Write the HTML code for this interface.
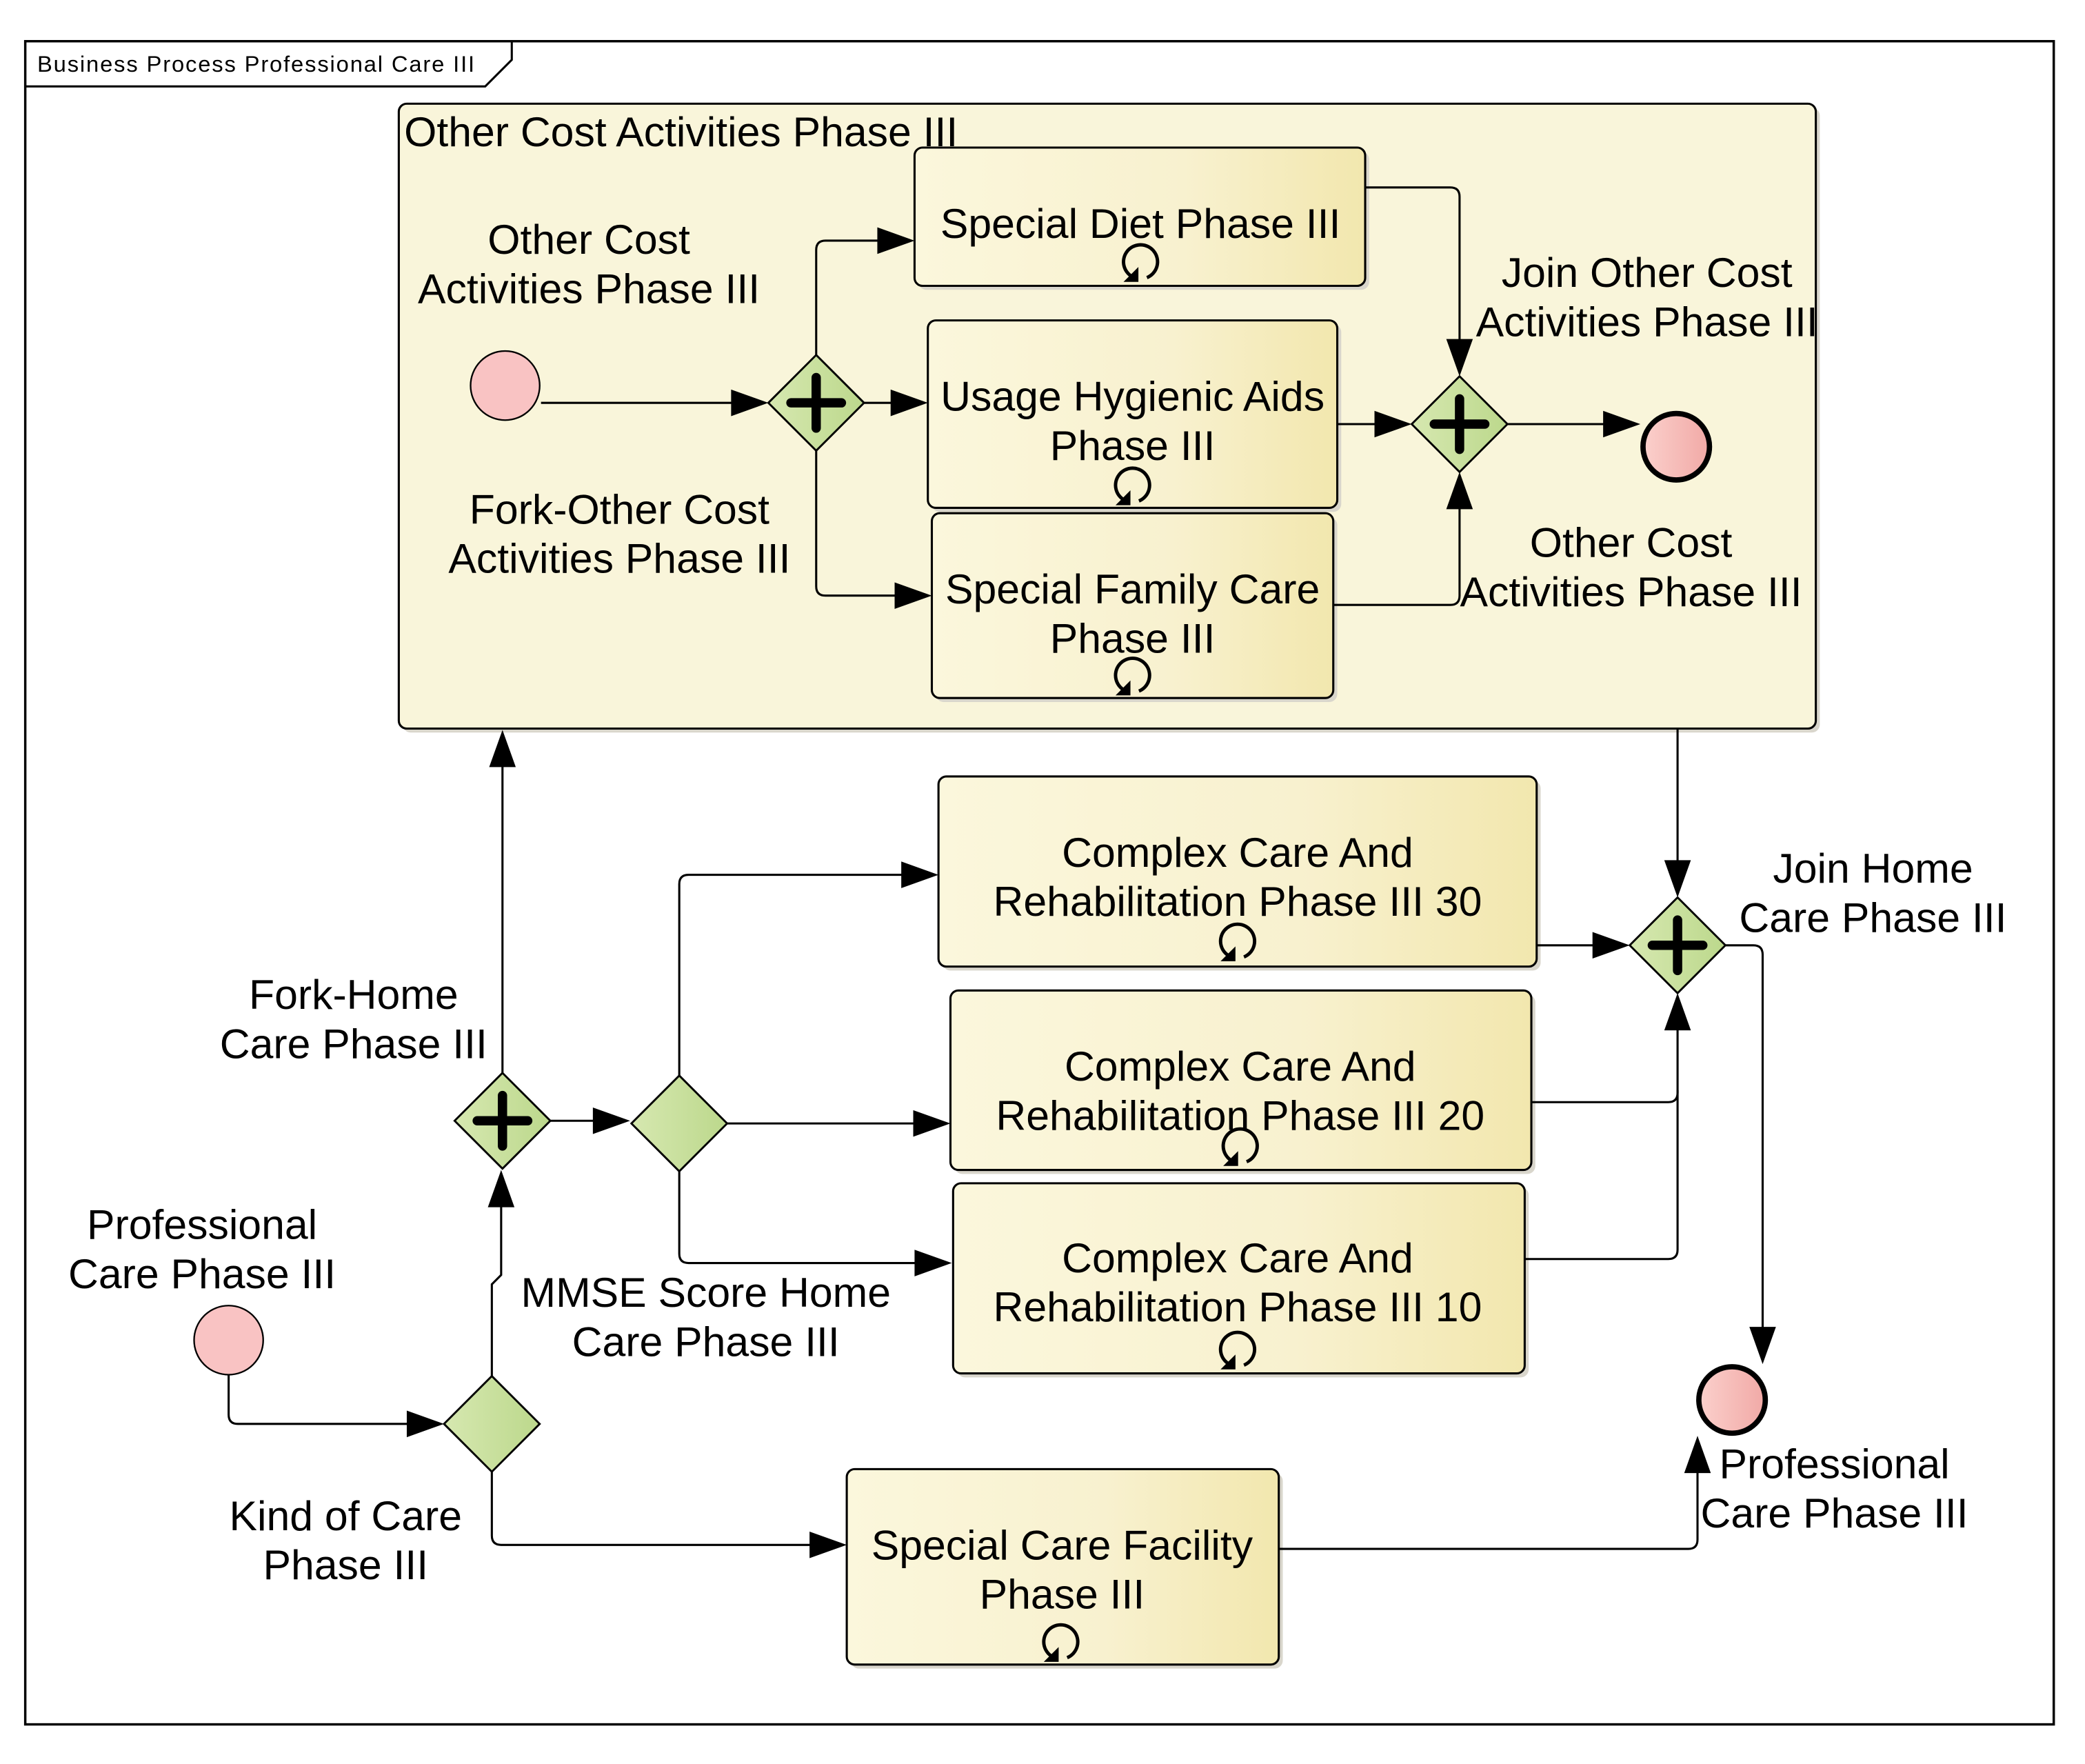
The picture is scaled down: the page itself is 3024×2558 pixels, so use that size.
<!DOCTYPE html>
<html><head><meta charset="utf-8"><style>html,body{margin:0;padding:0;background:#fff}svg{display:block}</style></head>
<body>
<svg width="3024" height="2558" viewBox="0 0 1568.5 1326.8" xmlns="http://www.w3.org/2000/svg" font-family="Liberation Sans, sans-serif">
<defs>
<linearGradient id="tk" x1="0" x2="1" y1="0" y2="0"><stop offset="0" stop-color="#fbf7dc"/><stop offset="0.6" stop-color="#f8f1cf"/><stop offset="1" stop-color="#f2e7ae"/></linearGradient>
<linearGradient id="gw" x1="0" x2="1" y1="0" y2="0"><stop offset="0" stop-color="#d6e8b0"/><stop offset="1" stop-color="#bcd88c"/></linearGradient>
<linearGradient id="ev" x1="0" x2="1" y1="0" y2="0"><stop offset="0" stop-color="#fbd0cc"/><stop offset="1" stop-color="#f1a9a6"/></linearGradient>
<g id="loop"><g transform="scale(1.6)"><path d="M-3,8 A8,8 0 1 1 3,8" fill="none" stroke="#000" stroke-width="1.6"/><path d="M-8,10 L-1,10 L-1,3 Z" fill="#000"/></g></g>
<g id="par"><path d="M0,-36 L36,0 L0,36 L-36,0 Z" fill="url(#gw)" stroke="#000" stroke-width="1.5"/><path d="M-19,0 H19 M0,-19 V19" stroke="#000" stroke-width="7" stroke-linecap="round"/></g>
<g id="exc"><path d="M0,-36 L36,0 L0,36 L-36,0 Z" fill="url(#gw)" stroke="#000" stroke-width="1.5"/></g>
</defs>
<style>
text{font-size:31.5px;fill:#000}
.c{text-anchor:middle}
.ln{fill:none;stroke:#000;stroke-width:1.6}
.tk{fill:url(#tk);stroke:#000;stroke-width:1.6}
.sh{fill:#d9d6cc}
</style>
<rect x="19" y="31" width="1526" height="1266" fill="#fff" stroke="#000" stroke-width="1.8"/>
<path d="M19,65 H365 L385,45 V31" class="ln"/>
<text x="28" y="48" dominant-baseline="central" style="font-size:17px;letter-spacing:0.95px">Business Process Professional Care III</text>

<rect x="303" y="81" width="1066" height="470" rx="6" class="sh"/>
<rect x="300" y="78" width="1066" height="470" rx="6" fill="#f9f5da" stroke="#000" stroke-width="1.6"/>
<text x="304" y="99" dominant-baseline="central">Other Cost Activities Phase III</text>

<circle cx="380" cy="290" r="26" fill="#f9c3c3" stroke="#000" stroke-width="1.2"/>
<text class="c" x="443" y="180" dominant-baseline="central">Other Cost</text>
<text class="c" x="443" y="217" dominant-baseline="central">Activities Phase III</text>
<text class="c" x="466" y="383" dominant-baseline="central">Fork-Other Cost</text>
<text class="c" x="466" y="420" dominant-baseline="central">Activities Phase III</text>

<rect x="691" y="114" width="339" height="104" rx="6" class="sh"/>
<rect x="688" y="111" width="339" height="104" rx="6" class="tk"/>
<text class="c" x="858" y="168" dominant-baseline="central">Special Diet Phase III</text>
<use href="#loop" x="858" y="196"/>

<rect x="701" y="244" width="308" height="141" rx="6" class="sh"/>
<rect x="698" y="241" width="308" height="141" rx="6" class="tk"/>
<text class="c" x="852" y="298" dominant-baseline="central">Usage Hygienic Aids</text>
<text class="c" x="852" y="335" dominant-baseline="central">Phase III</text>
<use href="#loop" x="852" y="364"/>

<rect x="704" y="389" width="302" height="139" rx="6" class="sh"/>
<rect x="701" y="386" width="302" height="139" rx="6" class="tk"/>
<text class="c" x="852" y="443" dominant-baseline="central">Special Family Care</text>
<text class="c" x="852" y="480" dominant-baseline="central">Phase III</text>
<use href="#loop" x="852" y="507"/>

<path class="ln" d="M407,303 H560"/>
<path class="ln" d="M614,267 V188 Q614,181 621,181 H670"/>
<path class="ln" d="M650,303 H680"/>
<path class="ln" d="M614,339 V441 Q614,448 621,448 H683"/>
<path class="ln" d="M1027,141 H1091 Q1098,141 1098,148 V265"/>
<path class="ln" d="M1006,319 H1044"/>
<path class="ln" d="M1003,455 H1091 Q1098,455 1098,448 V373"/>
<path class="ln" d="M1134,319 H1216"/>
<use href="#par" x="614" y="303"/>
<use href="#par" x="1098" y="319"/>
<circle cx="1261" cy="336" r="25" fill="url(#ev)" stroke="#000" stroke-width="4"/>
<g fill="#000">
<path d="M578,303 L550,293 L550,313 Z"/>
<path d="M688,181 L660,171 L660,191 Z"/>
<path d="M698,303 L670,293 L670,313 Z"/>
<path d="M701,448 L673,438 L673,458 Z"/>
<path d="M1098,283 L1088,255 L1108,255 Z"/>
<path d="M1062,319 L1034,309 L1034,329 Z"/>
<path d="M1098,355 L1088,383 L1108,383 Z"/>
<path d="M1234,319 L1206,309 L1206,329 Z"/>
</g>
<text class="c" x="1239" y="205" dominant-baseline="central">Join Other Cost</text>
<text class="c" x="1239" y="242" dominant-baseline="central">Activities Phase III</text>
<text class="c" x="1227" y="408" dominant-baseline="central">Other Cost</text>
<text class="c" x="1227" y="445" dominant-baseline="central">Activities Phase III</text>

<rect x="709" y="587" width="450" height="143" rx="6" class="sh"/>
<rect x="706" y="584" width="450" height="143" rx="6" class="tk"/>
<text class="c" x="931" y="641" dominant-baseline="central">Complex Care And</text>
<text class="c" x="931" y="678" dominant-baseline="central">Rehabilitation Phase III 30</text>
<use href="#loop" x="931" y="707"/>

<rect x="718" y="748" width="437" height="135" rx="6" class="sh"/>
<rect x="715" y="745" width="437" height="135" rx="6" class="tk"/>
<text class="c" x="933" y="802" dominant-baseline="central">Complex Care And</text>
<text class="c" x="933" y="839" dominant-baseline="central">Rehabilitation Phase III 20</text>
<use href="#loop" x="933" y="861"/>

<rect x="720" y="893" width="430" height="143" rx="6" class="sh"/>
<rect x="717" y="890" width="430" height="143" rx="6" class="tk"/>
<text class="c" x="931" y="946" dominant-baseline="central">Complex Care And</text>
<text class="c" x="931" y="983" dominant-baseline="central">Rehabilitation Phase III 10</text>
<use href="#loop" x="931" y="1014"/>

<rect x="640" y="1108" width="325" height="147" rx="6" class="sh"/>
<rect x="637" y="1105" width="325" height="147" rx="6" class="tk"/>
<text class="c" x="799" y="1162" dominant-baseline="central">Special Care Facility</text>
<text class="c" x="799" y="1199" dominant-baseline="central">Phase III</text>
<use href="#loop" x="798" y="1234"/>

<path class="ln" d="M172,1034 V1064 Q172,1071 179,1071 H316"/>
<path class="ln" d="M370,1035 V966 L377,959 V898"/>
<path class="ln" d="M370,1107 V1155 Q370,1162 377,1162 H619"/>
<path class="ln" d="M378,807 V567"/>
<path class="ln" d="M414,843 H456"/>
<path class="ln" d="M511,809 V665 Q511,658 518,658 H688"/>
<path class="ln" d="M547,845 H697"/>
<path class="ln" d="M511,881 V943 Q511,950 518,950 H698"/>
<path class="ln" d="M1262,548 V657"/>
<path class="ln" d="M1156,711 H1208"/>
<path class="ln" d="M1152,829 H1255 Q1262,829 1262,822 V765"/>
<path class="ln" d="M1147,947 H1255 Q1262,947 1262,940 V820"/>
<path class="ln" d="M1298,711 H1319 Q1326,711 1326,718 V1008"/>
<path class="ln" d="M962,1165 H1270 Q1277,1165 1277,1158 V1098"/>
<use href="#exc" x="370" y="1071"/>
<use href="#par" x="378" y="843"/>
<use href="#exc" x="511" y="845"/>
<use href="#par" x="1262" y="711"/>
<circle cx="172" cy="1008" r="26" fill="#f9c3c3" stroke="#000" stroke-width="1.2"/>
<circle cx="1303" cy="1053" r="25" fill="url(#ev)" stroke="#000" stroke-width="4"/>
<g fill="#000">
<path d="M334,1071 L306,1061 L306,1081 Z"/>
<path d="M377,880 L367,908 L387,908 Z"/>
<path d="M637,1162 L609,1152 L609,1172 Z"/>
<path d="M378,549 L368,577 L388,577 Z"/>
<path d="M474,843 L446,833 L446,853 Z"/>
<path d="M706,658 L678,648 L678,668 Z"/>
<path d="M715,845 L687,835 L687,855 Z"/>
<path d="M716,950 L688,940 L688,960 Z"/>
<path d="M1262,675 L1252,647 L1272,647 Z"/>
<path d="M1226,711 L1198,701 L1198,721 Z"/>
<path d="M1262,747 L1252,775 L1272,775 Z"/>
<path d="M1326,1026 L1316,998 L1336,998 Z"/>
<path d="M1277,1080 L1267,1108 L1287,1108 Z"/>
</g>
<text class="c" x="152" y="921" dominant-baseline="central">Professional</text>
<text class="c" x="152" y="958" dominant-baseline="central">Care Phase III</text>
<text class="c" x="260" y="1140" dominant-baseline="central">Kind of Care</text>
<text class="c" x="260" y="1177" dominant-baseline="central">Phase III</text>
<text class="c" x="266" y="748" dominant-baseline="central">Fork-Home</text>
<text class="c" x="266" y="785" dominant-baseline="central">Care Phase III</text>
<text class="c" x="531" y="972" dominant-baseline="central">MMSE Score Home</text>
<text class="c" x="531" y="1009" dominant-baseline="central">Care Phase III</text>
<text class="c" x="1409" y="653" dominant-baseline="central">Join Home</text>
<text class="c" x="1409" y="690" dominant-baseline="central">Care Phase III</text>
<text class="c" x="1380" y="1101" dominant-baseline="central">Professional</text>
<text class="c" x="1380" y="1138" dominant-baseline="central">Care Phase III</text>
</svg>
</body></html>
